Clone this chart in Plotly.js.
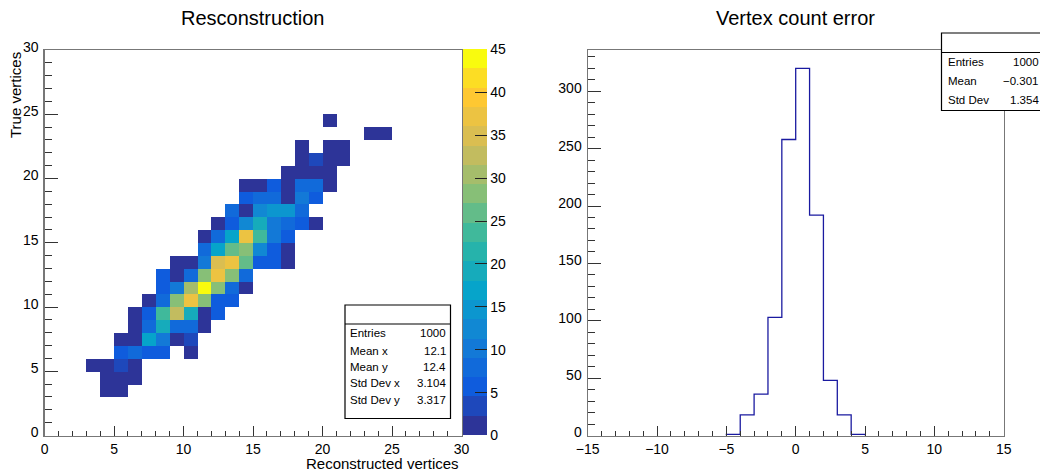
<!DOCTYPE html>
<html><head><meta charset="utf-8">
<script src="https://cdn.plot.ly/plotly-3.0.1.min.js"></script>
<style>html,body{margin:0;padding:0;background:#fff}#chart{width:1040px;height:473px}</style>
</head><body><div id="chart"></div>
<script>
// ---- 2D histogram "Resconstruction": bin lower edges (bin width 1) and counts ----
const cellX = [4,5, 4,5,6, 3,4,5,6, 5,6,7,8,10, 5,6,7,8,9,10, 6,7,8,9,10,11,
  6,7,8,9,10,11,12, 7,8,9,10,11,12,13, 8,9,10,11,12,13,14, 8,9,10,11,12,13,14,
  9,10,11,12,13,14,15,16,17, 11,12,13,14,15,16,17, 11,12,13,14,15,16,17,
  12,13,14,15,16,17,18,19, 13,14,15,16,17,18, 14,15,16,17,18,19,
  14,15,16,17,18,19,20, 17,18,19,20, 18,19,20,21, 18,20,21, 23,24, 20];
const cellY = [3,3, 4,4,4, 5,5,5,5, 6,6,6,6,6, 7,7,7,7,7,7, 8,8,8,8,8,8,
  9,9,9,9,9,9,9, 10,10,10,10,10,10,10, 11,11,11,11,11,11,11, 12,12,12,12,12,12,12,
  13,13,13,13,13,13,13,13,13, 14,14,14,14,14,14,14, 15,15,15,15,15,15,15,
  16,16,16,16,16,16,16,16, 17,17,17,17,17,17, 18,18,18,18,18,18,
  19,19,19,19,19,19,19, 20,20,20,20, 21,21,21,21, 22,22,22, 23,23, 24];
const cellCount = [1,2, 2,2,1, 1,1,4,2, 5,7,5,5,1, 2,2,17,11,2,4, 2,7,20,7,7,2,
  1,5,23,33,20,2,5, 2,8,28,38,28,5,5, 5,11,31,45,28,8,2, 5,2,8,28,38,28,8,
  2,2,11,34,37,26,5,5,2, 8,16,26,28,13,5,2, 2,8,16,36,24,11,5,
  2,5,13,20,11,8,5,2, 8,2,12,15,15,8, 5,8,8,2,11,5,
  2,2,5,2,7,7,2, 1,2,1,1, 1,4,1,1, 1,1,1, 1,1, 1];

// ---- 1D histogram "Vertex count error" ----
const errEdges = [-5,-4,-3,-2,-1,0,1,2,3,4,5];
const errCounts = [1,18,36,103,258,320,192,48,18,1];

// ---- stats boxes ----
const stats2DLabels = ["Entries","Mean x","Mean y","Std Dev x","Std Dev y"];
const stats2DValues = ["1000","12.1","12.4","3.104","3.317"];
const stats1DLabels = ["Entries","Mean","Std Dev"];
const stats1DValues = ["1000","\u22120.301","1.354"];

// ---- titles / tick labels ----
const title2D = "Resconstruction";
const title1D = "Vertex count error";
const xTitle2D = "Reconstructed vertices";
const yTitle2D = "True vertices";
const colorbarTicks = [0,5,10,15,20,25,30,35,40,45];

// build 2D matrix
const NB = 30;
const z = [];
for (let j = 0; j < NB; j++) { z.push(new Array(NB).fill(null)); }
for (let k = 0; k < cellX.length; k++) { z[cellY[k]][cellX[k]] = cellCount[k]; }
const centers = [];
for (let i = 0; i < NB; i++) centers.push(i + 0.5);

// step outline for 1D histogram
const sx = [errEdges[0]], sy = [0];
for (let k = 0; k < errCounts.length; k++) { sx.push(errEdges[k]); sy.push(errCounts[k]); }
sx.push(errEdges[errEdges.length - 1]); sy.push(errCounts[errCounts.length - 1]);
sx.push(errEdges[errEdges.length - 1]); sy.push(0);

// ROOT kBird palette -> 20 discrete bands
const bR = [0.2082,0.0592,0.0780,0.0232,0.1802,0.5301,0.8186,0.9956,0.9764];
const bG = [0.1664,0.3599,0.5041,0.6419,0.7178,0.7492,0.7328,0.7862,0.9832];
const bB = [0.5293,0.8684,0.8385,0.7914,0.6425,0.4662,0.3499,0.1968,0.0539];
function bird(f) {
  const p = f * 8; let i = Math.floor(p); if (i >= 8) i = 7; const t = p - i;
  const c = a => Math.max(0, Math.min(255, Math.round(255 * (a[i] + (a[i + 1] - a[i]) * t))));
  return `rgb(${c(bR)},${c(bG)},${c(bB)})`;
}
const NBAND = 20, cs = [];
for (let k = 0; k < NBAND; k++) {
  const f = k === NBAND - 1 ? 1 : (k + 0.5) / NBAND;
  const col = bird(f);
  cs.push([k / NBAND, col]); cs.push([(k + 1) / NBAND, col]);
}

const W = 1040, H = 473;
const px = v => v / W, py = v => 1 - v / H;
const yDom = [py(435.5), py(50)];
const FONT = "Liberation Sans, Arial, Helvetica, sans-serif";

const traces = [
  { type: 'heatmap', x: centers, y: centers, z: z, zmin: 0, zmax: 45, colorscale: cs,
    xaxis: 'x', yaxis: 'y', hoverinfo: 'skip', zsmooth: false,
    colorbar: { x: px(463), xanchor: 'left', y: yDom[0], yanchor: 'bottom', len: 385.5, lenmode: 'pixels',
      thickness: 24, thicknessmode: 'pixels', xpad: 0, ypad: 0, outlinewidth: 0,
      tickvals: colorbarTicks, ticks: 'inside', ticklen: 12, tickcolor: '#222', tickwidth: 1,
      tickfont: { family: FONT, size: 14, color: '#000' } } },
  { type: 'scatter', mode: 'lines', x: sx, y: sy, xaxis: 'x2', yaxis: 'y2',
    line: { shape: 'hv', color: '#1a1aa0', width: 1.3 }, hoverinfo: 'skip', showlegend: false }
];

const axBase = {
  showgrid: false, zeroline: false, showline: true, mirror: true, linecolor: '#777', linewidth: 1.2,
  ticks: 'inside', tickcolor: '#333', tickwidth: 1, fixedrange: true,
  tickfont: { family: FONT, size: 14, color: '#000' }
};

const shapes = [];
const annotations = [];
function statBox(x0, x1, y0, yHead, y1, labels, values, rowY, xl, xr) {
  shapes.push({ type: 'rect', xref: 'paper', yref: 'paper', x0: px(x0), x1: px(x1), y0: py(y1), y1: py(y0),
    line: { color: '#000', width: 1.2 }, fillcolor: '#fff', layer: 'above' });
  shapes.push({ type: 'line', xref: 'paper', yref: 'paper', x0: px(x0), x1: px(x1), y0: py(yHead), y1: py(yHead),
    line: { color: '#000', width: 1.2 }, layer: 'above' });
  for (let k = 0; k < labels.length; k++) {
    annotations.push({ xref: 'paper', yref: 'paper', x: px(xl), y: py(rowY[k]), xanchor: 'left', yanchor: 'middle',
      text: labels[k], showarrow: false, font: { family: FONT, size: 11.5, color: '#000' } });
    annotations.push({ xref: 'paper', yref: 'paper', x: px(xr), y: py(rowY[k]), xanchor: 'right', yanchor: 'middle',
      text: values[k], showarrow: false, font: { family: FONT, size: 11.5, color: '#000' } });
  }
}
statBox(345, 450.5, 305, 324, 418.5, stats2DLabels, stats2DValues, [333, 351, 367, 383, 399.5], 348, 448);
statBox(941.5, 1045, 33, 52.5, 110.5, stats1DLabels, stats1DValues, [61.5, 81, 100], 945.5, 1041);

annotations.push({ xref: 'paper', yref: 'paper', x: px(252.5), y: py(18), xanchor: 'center', yanchor: 'middle',
  text: title2D, showarrow: false, font: { family: FONT, size: 20, color: '#000' } });
annotations.push({ xref: 'paper', yref: 'paper', x: px(795.5), y: py(18), xanchor: 'center', yanchor: 'middle',
  text: title1D, showarrow: false, font: { family: FONT, size: 20, color: '#000' } });
annotations.push({ xref: 'paper', yref: 'paper', x: px(461), y: py(463), xanchor: 'right', yanchor: 'middle',
  text: xTitle2D, showarrow: false, font: { family: FONT, size: 15, color: '#000' } });
annotations.push({ xref: 'paper', yref: 'paper', x: px(16), y: py(50), xanchor: 'center', yanchor: 'top',
  text: yTitle2D, textangle: -90, showarrow: false, font: { family: FONT, size: 15, color: '#000' } });

const layout = {
  width: W, height: H, margin: { l: 0, r: 0, t: 0, b: 0 }, paper_bgcolor: '#fff', plot_bgcolor: '#fff',
  showlegend: false,
  xaxis: Object.assign({}, axBase, { domain: [px(44.6), px(461.5)], range: [0, 30], tick0: 0, dtick: 5, ticklen: 10,
    minor: { dtick: 1, ticks: 'inside', ticklen: 5, tickcolor: '#333', showgrid: false }, anchor: 'y' }),
  yaxis: Object.assign({}, axBase, { domain: yDom, range: [0, 30], tick0: 0, dtick: 5, ticklen: 13,
    ticklabelshift: -3, ticklabelstandoff: 2,
    minor: { dtick: 1, ticks: 'inside', ticklen: 7, tickcolor: '#333', showgrid: false }, anchor: 'x' }),
  xaxis2: Object.assign({}, axBase, { domain: [px(587.7), px(1003.7)], range: [-15, 15], tick0: -15, dtick: 5, ticklen: 10,
    minor: { dtick: 1, ticks: 'inside', ticklen: 5, tickcolor: '#333', showgrid: false }, anchor: 'y2' }),
  yaxis2: Object.assign({}, axBase, { domain: yDom, range: [0, 336], tick0: 0, dtick: 50, ticklen: 13,
    ticklabelshift: -3, ticklabelstandoff: 2,
    minor: { dtick: 10, ticks: 'inside', ticklen: 7, tickcolor: '#333', showgrid: false }, anchor: 'x2' }),
  shapes: shapes, annotations: annotations
};

Plotly.newPlot('chart', traces, layout, { displayModeBar: false, staticPlot: true });
</script>
</body></html>
